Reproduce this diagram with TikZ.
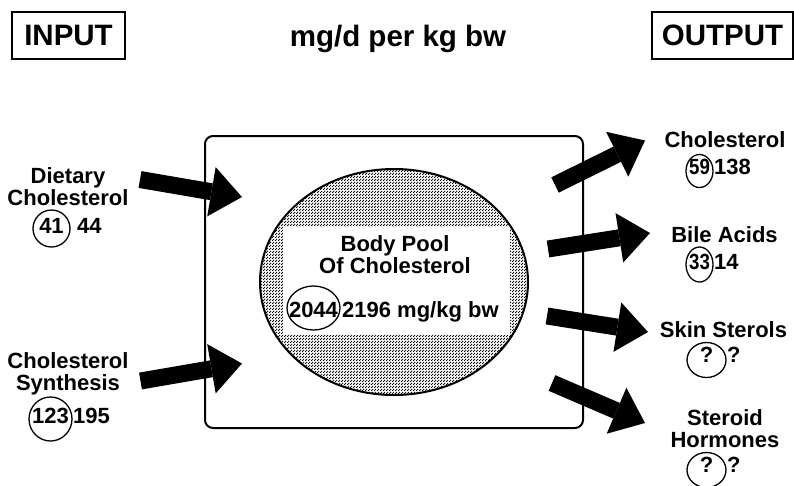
\documentclass[tikz,border=0pt]{standalone}
\usepackage{fontspec}
\setmainfont{Liberation Sans}
\usetikzlibrary{shapes.geometric,arrows.meta,patterns.meta}
\tikzdeclarepattern{
  name=stipple,
  type=uncolored,
  bounding box={(0pt,0pt) and (2.6pt,2.6pt)},
  tile size={(2.6pt,2.6pt)},
  code={
    \pgfpathcircle{\pgfqpoint{0.65pt}{0.65pt}}{0.8pt}
    \pgfpathcircle{\pgfqpoint{1.95pt}{1.95pt}}{0.8pt}
    \pgfusepath{fill}
  }
}
\newcommand{\zw}[1]{\makebox[0pt]{#1}}
\newcommand{\nw}[1]{\makebox[0pt]{\scalebox{0.85}[1]{#1}}}
\begin{document}
\begin{tikzpicture}[x=1pt,y=-1pt,
  lbl/.style={font=\fontsize{22}{22}\selectfont\bfseries, inner sep=0pt, align=center},
  hdr/.style={font=\fontsize{29.5}{30}\selectfont\bfseries, inner sep=0pt},
  hbox/.style={draw, line width=2pt},
  circ/.style={ellipse, draw, line width=1.3pt, inner sep=0pt, font=\fontsize{22}{22}\selectfont\bfseries},
  cdim/.style 2 args={text height=#1pt, text depth=#2pt},
  flow/.style={line width=17pt, -{Triangle[length=31pt,width=50pt,line width=0pt]}}]
\useasboundingbox (0,0) rectangle (794,485);

% header
\node[hdr, hbox, minimum width=113, minimum height=47] (input) at (68.5,35.5) {INPUT};
\node[hdr, hbox, minimum width=141, minimum height=47] (output) at (722.5,35.5) {OUTPUT};
\node[hdr, anchor=base] (unit) at (398,46) {mg/d per kg bw};

% main box and pool
\node[draw, line width=2pt, rounded corners=8pt, minimum width=378, minimum height=292] (box) at (394,282) {};
\node[ellipse, draw, line width=2pt, pattern=stipple, minimum width=268, minimum height=226] (pool) at (394,282) {};
\node[fill=white, inner sep=0pt, minimum width=227, minimum height=108] (win) at (396.5,281) {};
\node[lbl, anchor=base] (pooltxt) at (395,273) {Body Pool\\Of Cholesterol};
\node[circ, cdim={20}{2}, minimum width=53, minimum height=44] (c2044) at (313.5,308) {\zw{2044}};
\node[lbl, anchor=base west] (v2196) at (342,317) {2196 mg/kg bw};

% inputs
\node[lbl, anchor=base] (diet) at (68,205) {Dietary\\Cholesterol};
\node[circ, cdim={15.5}{6.5}, minimum width=37, minimum height=37] (c41) at (51.5,228.5) {\zw{41}};
\node[lbl, anchor=base west] (v44) at (77,233) {44};
\node[lbl, anchor=base] (synth) at (68,390) {Cholesterol\\Synthesis};
\node[circ, cdim={15}{7}, minimum width=43, minimum height=44] (c123) at (50.5,419) {\zw{123}};
\node[lbl, anchor=base west] (v195) at (73,423) {195};

% outputs
\node[lbl, anchor=base] (ochol) at (725,147) {Cholesterol};
\node[circ, cdim={14.5}{7.5}, minimum width=27, minimum height=33] (c59) at (699.5,171) {\nw{59}};
\node[lbl, anchor=base west] (v138) at (714,174) {138};
\node[lbl, anchor=base] (bile) at (724.5,242) {Bile Acids};
\node[circ, cdim={15.5}{6.5}, minimum width=27, minimum height=35] (c33) at (699.5,264.5) {\nw{33}};
\node[lbl, anchor=base west] (v14) at (714,269) {14};
\node[lbl, anchor=base] (skin) at (723.5,337) {Skin Sterols};
\node[circ, cdim={13}{9}, minimum width=39, minimum height=35] (cq1) at (706.5,360) {\zw{?}};
\node[lbl, anchor=base west] (vq1) at (727,362) {?};
\node[lbl, anchor=base] (ster) at (725,447) {Steroid\\Hormones};
\node[circ, cdim={13}{9}, minimum width=39, minimum height=35] (cq2) at (706.5,470) {\zw{?}};
\node[lbl, anchor=base west] (vq2) at (727,472) {?};

% arrows
\coordinate (a1s) at (140,179.5); \coordinate (a1e) at (242,197);
\coordinate (a2s) at (140.5,381); \coordinate (a2e) at (242,363.5);
\coordinate (b1s) at (555,185);   \coordinate (b1e) at (645,140.5);
\coordinate (b2s) at (548,249);   \coordinate (b2e) at (650,233);
\coordinate (b3s) at (547,316);   \coordinate (b3e) at (648,332);
\coordinate (b4s) at (552,383);   \coordinate (b4e) at (645,423);
\draw[flow] (a1s) -- (a1e);
\draw[flow] (a2s) -- (a2e);
\draw[flow] (b1s) -- (b1e);
\draw[flow] (b2s) -- (b2e);
\draw[flow] (b3s) -- (b3e);
\draw[flow] (b4s) -- (b4e);
\end{tikzpicture}
\end{document}
